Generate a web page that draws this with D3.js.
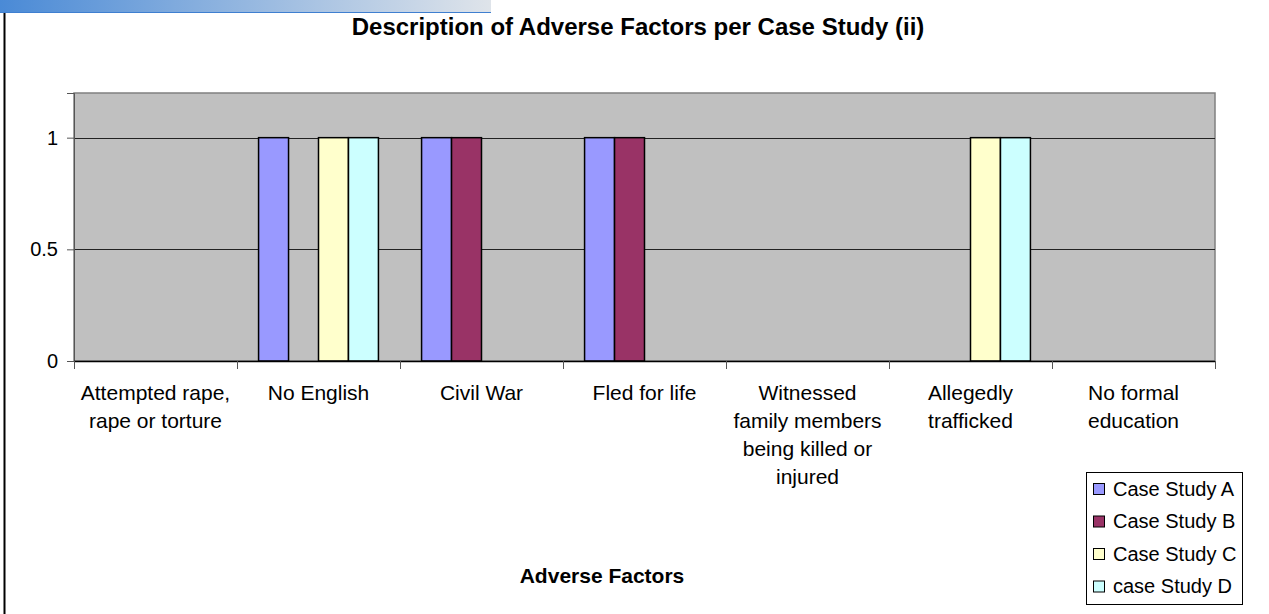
<!DOCTYPE html>
<meta charset="utf-8">
<head>
  <title>Adverse Factors per Case Study (ii)</title>
</head>

<style>
body {
  margin: 0;
  background: #fff;
  font-family: "Liberation Sans", Arial, sans-serif;
}
</style>

<body>
  <svg width="1269" height="614"></svg>

  <script src="https://cdnjs.cloudflare.com/ajax/libs/d3/7.8.5/d3.min.js"></script>

  <script>
var categories = ['Attempted rape, rape or torture', 'No English', 'Civil War', 'Fled for life',
  'Witnessed family members being killed or injured', 'Allegedly trafficked', 'No formal education'];
var seriesNames = ['Case Study A', 'Case Study B', 'Case Study C', 'case Study D'];
var caseA = [0, 1, 1, 1, 0, 0, 0];
var caseB = [0, 0, 1, 1, 0, 0, 0];
var caseC = [0, 1, 0, 0, 0, 1, 0];
var caseD = [0, 1, 0, 0, 0, 1, 0];
var yTicks = [0, 0.5, 1];
var colors = ['#9999FF', '#993366', '#FFFFCC', '#CCFFFF'];

var series = [caseA, caseB, caseC, caseD];

var svg = d3.select('svg');
var plot = {left: 74, right: 1215, top: 93, bottom: 361};

// header strip + frame line
var grad = svg.append('defs').append('linearGradient').attr('id', 'hdr');
grad.append('stop').attr('offset', '0%').attr('stop-color', '#4a8ad6');
grad.append('stop').attr('offset', '100%').attr('stop-color', '#dfe4ea');
svg.append('rect').attr('x', 0).attr('y', 0).attr('width', 491).attr('height', 12).attr('fill', 'url(#hdr)');
svg.append('line').attr('x1', 0).attr('x2', 491).attr('y1', 12.5).attr('y2', 12.5)
  .attr('stroke', '#3f7fd0').attr('stroke-width', 1);
svg.append('line').attr('x1', 4.5).attr('x2', 4.5).attr('y1', 13).attr('y2', 614)
  .attr('stroke', '#000').attr('stroke-width', 2);

var x = d3.scaleBand()
  .domain(categories)
  .range([plot.left, plot.right]);

var xInner = d3.scaleBand()
  .domain(seriesNames)
  .range([0, x.bandwidth()])
  .paddingOuter(0.72);

var y = d3.scaleLinear()
  .domain([0, 1.2])
  .range([plot.bottom, plot.top]);

// plot area
svg.append('rect')
  .attr('x', plot.left).attr('y', plot.top)
  .attr('width', plot.right - plot.left).attr('height', plot.bottom - plot.top)
  .attr('fill', '#c0c0c0').attr('stroke', '#808080').attr('stroke-width', 1.5);

// gridlines
svg.append('g')
  .selectAll('line')
  .data(yTicks.filter(function(d) { return d > 0; }))
  .join('line')
  .attr('x1', plot.left).attr('x2', plot.right)
  .attr('y1', function(d) { return Math.round(y(d)) + 0.5; })
  .attr('y2', function(d) { return Math.round(y(d)) + 0.5; })
  .attr('stroke', '#222').attr('stroke-width', 1.2);

// bars
var groups = svg.append('g')
  .selectAll('g')
  .data(categories)
  .join('g')
  .attr('transform', function(d) { return 'translate(' + x(d) + ',0)'; });

groups.selectAll('rect')
  .data(function(c, i) {
    return series.map(function(s, k) { return {name: seriesNames[k], value: s[i], k: k}; })
      .filter(function(d) { return d.value > 0; });
  })
  .join('rect')
  .attr('x', function(d) { return xInner(d.name); })
  .attr('width', xInner.bandwidth())
  .attr('y', function(d) { return y(d.value); })
  .attr('height', function(d) { return y(0) - y(d.value); })
  .attr('fill', function(d) { return colors[d.k]; })
  .attr('stroke', '#000').attr('stroke-width', 1.5);

// y axis
var yAxis = svg.append('g')
  .attr('transform', 'translate(' + plot.left + ',0)')
  .call(d3.axisLeft(y).tickValues(yTicks).tickSize(7).tickPadding(9).tickFormat(d3.format('')));
yAxis.select('.domain').attr('stroke', '#555');
yAxis.selectAll('.tick line').attr('stroke', '#555');
yAxis.selectAll('text').attr('font-size', 20).attr('fill', '#000')
  .attr('font-family', '"Liberation Sans", Arial, sans-serif');

// x axis
var xAxis = svg.append('g')
  .attr('transform', 'translate(0,' + plot.bottom + ')');
xAxis.append('line')
  .attr('x1', plot.left).attr('x2', plot.right).attr('y1', 0.5).attr('y2', 0.5)
  .attr('stroke', '#000').attr('stroke-width', 1.5);
xAxis.selectAll('.tk')
  .data(d3.range(categories.length + 1))
  .join('line')
  .attr('class', 'tk')
  .attr('x1', function(i) { return Math.round(plot.left + i * x.step()) + 0.5; })
  .attr('x2', function(i) { return Math.round(plot.left + i * x.step()) + 0.5; })
  .attr('y1', 0).attr('y2', 8)
  .attr('stroke', '#555');

var labels = xAxis.selectAll('.lbl')
  .data(categories)
  .join('text')
  .attr('class', 'lbl')
  .attr('x', function(d) { return x(d) + x.bandwidth() / 2; })
  .attr('y', 39)
  .attr('text-anchor', 'middle')
  .attr('font-size', 21)
  .attr('fill', '#000');

labels.each(function(d) {
  var el = d3.select(this);
  var words = d.split(' ');
  var lines = [];
  var cur = [];
  var probe = el.append('tspan');
  words.forEach(function(w) {
    var test = cur.concat([w]).join(' ');
    probe.text(test);
    if (probe.node().getComputedTextLength() > 156 && cur.length) {
      lines.push(cur.join(' '));
      cur = [w];
    } else {
      cur.push(w);
    }
  });
  lines.push(cur.join(' '));
  probe.remove();
  lines.forEach(function(line, i) {
    el.append('tspan')
      .attr('x', x(d) + x.bandwidth() / 2)
      .attr('dy', i === 0 ? 0 : 28)
      .text(line);
  });
});

// titles
svg.append('text')
  .attr('x', 638).attr('y', 35)
  .attr('text-anchor', 'middle')
  .attr('font-size', 24).attr('font-weight', 'bold')
  .text('Description of Adverse Factors per Case Study (ii)');

svg.append('text')
  .attr('x', 602).attr('y', 583)
  .attr('text-anchor', 'middle')
  .attr('font-size', 21).attr('font-weight', 'bold')
  .text('Adverse Factors');

// legend
var legend = svg.append('g').attr('transform', 'translate(1086,472)');
legend.append('rect')
  .attr('x', 0.5).attr('y', 0.5).attr('width', 156).attr('height', 132)
  .attr('fill', '#fff').attr('stroke', '#000').attr('stroke-width', 1);

var items = legend.selectAll('.item')
  .data(seriesNames)
  .join('g')
  .attr('class', 'item')
  .attr('transform', function(d, i) { return 'translate(0,' + (11 + i * 32.5) + ')'; });

items.append('rect')
  .attr('x', 7.5).attr('y', 0.5).attr('width', 11).attr('height', 11)
  .attr('fill', function(d, i) { return colors[i]; })
  .attr('stroke', '#000').attr('stroke-width', 1);

items.append('text')
  .attr('x', 27).attr('y', 12.5)
  .attr('font-size', 20)
  .text(function(d) { return d; });
  </script>
</body>
</html>
